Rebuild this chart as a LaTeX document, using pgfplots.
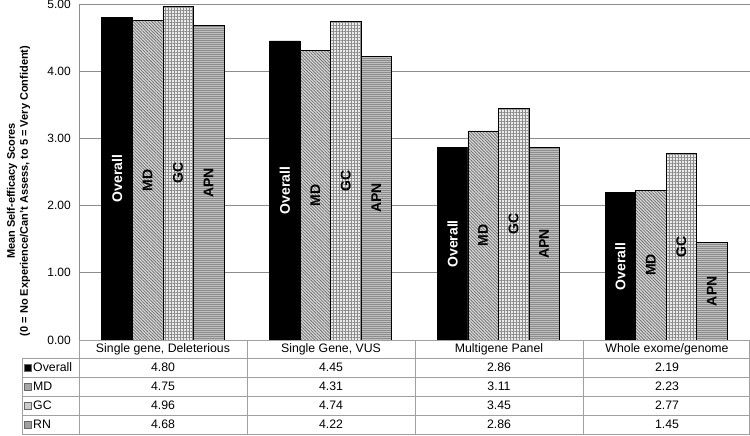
\documentclass[border=0pt]{standalone}
\usepackage{pgfplots}
\pgfplotsset{compat=1.18}
\usepackage{pgfplotstable}
\usetikzlibrary{patterns.meta}
\usepackage{fontspec}
\setmainfont{Liberation Sans}
\definecolor{gridc}{HTML}{8C8C8C}
\definecolor{tabc}{HTML}{A0A0A0}
\pgfplotstableread{
x ov md gc rn
0 4.80 4.75 4.96 4.68
1 4.45 4.31 4.74 4.22
2 2.86 3.11 3.45 2.86
3 2.19 2.23 2.77 1.45
}\data
\begin{document}
\fontsize{12bp}{14bp}\selectfont
\begin{tikzpicture}[x=1bp,y=1bp]
\useasboundingbox (0,0) rectangle (750,436);
\begin{axis}[
  at={(79bp,96bp)}, anchor=south west,
  scale only axis, width=671bp, height=336bp,
  xmin=-0.5, xmax=3.5, ymin=0, ymax=5,
  ybar=0pt, bar width=0.182,
  axis line style={draw=none},
  xtick=\empty,
  ytick={0,1,2,3,4,5},
  major tick length=0pt,
  ymajorgrids, grid style={gridc, line width=0.8bp},
  yticklabel={\pgfmathprintnumber[fixed,fixed zerofill,precision=2,assume math mode=true]{\tick}},
  yticklabel style={font=\fontsize{12bp}{14bp}\selectfont, xshift=-4bp},
  visualization depends on={rawy \as \rawy},
  every node near coord/.append style={anchor=center, font=\fontsize{14bp}{14bp}\bfseries\selectfont, yshift={-33.6bp*\rawy}, rotate=90},
]
\addplot[fill=black, draw=black, line width=0.7bp, nodes near coords={Overall}, every node near coord/.append style={text=white}] table[x=x,y=ov]{\data};
\addplot[preaction={fill=gray!30}, pattern={Lines[angle=-45,distance=2.2bp,line width=0.8bp]}, pattern color=black!55, draw=black, line width=0.7bp, nodes near coords={MD}, every node near coord/.append style={text=black}] table[x=x,y=md]{\data};
\addplot[preaction={fill=white!92!black}, pattern={Hatch[angle=0,distance=3bp,line width=0.6bp]}, pattern color=black!45, draw=black, line width=0.7bp, nodes near coords={GC}, every node near coord/.append style={text=black}] table[x=x,y=gc]{\data};
\addplot[preaction={fill=gray!50}, pattern={Lines[angle=0,distance=2bp,line width=0.7bp]}, pattern color=black!45, draw=black, line width=0.7bp, nodes near coords={APN}, every node near coord/.append style={text=black}] table[x=x,y=rn]{\data};
\end{axis}
% axis line
\draw[gridc, line width=0.8bp] (79,96) -- (79,432);
% table
\begin{scope}[tabc, line width=0.9bp]
\draw (79,96) -- (750,96);
\foreach \yy in {78,59,40,21,1.5} {\draw (22,\yy) -- (750,\yy);}
\draw (22,78) -- (22,1.5);
\foreach \xx in {79,247,415,583,749.5} {\draw (\xx,96) -- (\xx,1.5);}
\end{scope}
\begin{scope}[font=\fontsize{12.3bp}{14bp}\selectfont]
\foreach \cx/\lab in {163/{Single gene, Deleterious},331/{Single Gene, VUS},499/{Multigene Panel},667/{Whole exome/genome}} {\node at (\cx,87) {\lab};}
\foreach \cx/\a/\b/\c/\d in {163/4.80/4.75/4.96/4.68,331/4.45/4.31/4.74/4.22,499/2.86/3.11/3.45/2.86,667/2.19/2.23/2.77/1.45} {
  \node at (\cx,68.5) {\a};
  \node at (\cx,49.5) {\b};
  \node at (\cx,30.5) {\c};
  \node at (\cx,11.5) {\d};
}
\foreach \yy/\col/\lab in {68.5/black/Overall,49.5/gray!70/MD,30.5/gray!40/GC,11.5/gray!75/RN} {
  \draw[fill=\col, draw=gray!80!black, line width=0.5bp] (24.5,\yy-3.5) rectangle (31.5,\yy+3.5);
  \node[anchor=west, inner sep=0pt] at (33,\yy) {\lab};
}
\end{scope}
% y label
\node[rotate=90, align=center, font=\fontsize{11bp}{13bp}\bfseries\selectfont] at (18.5,245) {Mean Self-efficacy Scores\\(0 = No Experience/Can't Assess, to 5 = Very Confident)};
\end{tikzpicture}
\end{document}
